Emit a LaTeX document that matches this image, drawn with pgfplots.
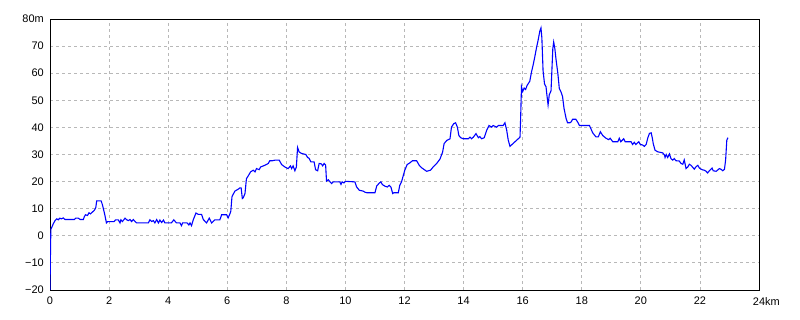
\documentclass[border=0pt]{standalone}
\usepackage{fontspec}
\setmainfont{Liberation Sans}
\usepackage{pgfplots}
\pgfplotsset{compat=1.18}
\begin{document}
\begin{tikzpicture}
\useasboundingbox (0,0) rectangle (800bp,320bp);
\begin{axis}[
  at={(50bp,30bp)}, anchor=south west,
  scale only axis, width=709bp, height=271bp,
  xmin=0, xmax=24, ymin=-20, ymax=80,
  xtick={0,2,4,6,8,10,12,14,16,18,20,22,24},
  ytick={-20,-10,0,10,20,30,40,50,60,70,80},
  xticklabels={0,2,4,6,8,10,12,14,16,18,20,22,24\rlap{km}},
  yticklabels={−20,−10,0,10,20,30,40,50,60,70,80m},
  grid=major,
  major grid style={color=black!28, dash pattern=on 3bp off 3bp, line width=0.8bp},
  axis line style={line width=0.9bp, black},
  major tick length=0pt,
  tick label style={font=\fontsize{11}{13}\selectfont},
  xticklabel style={inner sep=0pt, anchor=north, yshift=-7bp},
  yticklabel style={inner sep=0pt, anchor=east, xshift=-6bp},
  axis on top=false,
]
\addplot[color={rgb,255:red,0;green,0;blue,255}, line width=1.1bp, mark=none] coordinates {
(0,-20) (0.02,-3) (0.03,2.5) (0.06,3.1) (0.11,4.4) (0.17,5.6) (0.23,6.25) (0.28,5.9)
(0.33,6.5) (0.39,6.25) (0.45,6.6) (0.51,6) (0.82,6) (0.87,6.5) (0.96,6.5) (1.02,6)
(1.13,6) (1.16,7) (1.2,7.75) (1.27,7.5) (1.32,8.5) (1.37,8.1) (1.41,8.5) (1.5,9.4)
(1.55,10.4) (1.58,12.9) (1.73,12.9) (1.77,11.6) (1.82,9.4) (1.86,7.5) (1.91,4.75)
(1.95,5.25) (2.17,5.25) (2.22,5.9) (2.31,5.9) (2.37,4.75) (2.4,5.9) (2.45,5.25)
(2.54,6.5) (2.6,5.9) (2.65,5.6) (2.71,6) (2.76,5.25) (2.82,6) (2.88,5.25) (2.93,4.75)
(3.33,4.75) (3.38,5.9) (3.44,5.25) (3.5,5.6) (3.55,4.75) (3.61,6) (3.67,4.75)
(3.72,5.8) (3.78,4.9) (3.84,5.8) (3.89,4.75) (4.11,4.75) (4.19,5.9) (4.28,4.75)
(4.4,4.75) (4.45,3.75) (4.49,4.75) (4.64,4.75) (4.7,4) (4.74,4.75) (4.79,3.75)
(4.85,5.9) (4.94,8.4) (5.02,7.9) (5.13,7.9) (5.19,6) (5.3,4.75) (5.39,6.5) (5.47,4.75)
(5.58,5.9) (5.75,5.9) (5.81,7.75) (5.98,7.75) (6.03,6.6) (6.09,8.1) (6.12,9.1)
(6.16,14.4) (6.2,15.3) (6.26,16.5) (6.37,17.2) (6.43,17.7) (6.47,17.7) (6.51,13.75)
(6.54,14) (6.6,15.6) (6.65,21.1) (6.71,22.1) (6.79,23.6) (6.88,24.2) (6.94,23.6)
(6.99,24.8) (7.08,24.4) (7.13,25.4) (7.27,26) (7.39,26.7) (7.44,27.7) (7.53,27.7)
(7.61,27.9) (7.76,27.9) (7.84,26.3) (7.95,25.4) (8.06,24.8) (8.14,25.8) (8.18,24.8)
(8.23,25.8) (8.29,24) (8.34,25.4) (8.38,32.6) (8.43,31) (8.51,30.4) (8.66,30)
(8.72,28.9) (8.77,28.6) (8.83,27.3) (8.94,27.3) (8.99,24.4) (9.06,24) (9.11,26.7)
(9.19,26.5) (9.23,25.8) (9.28,26.7) (9.33,26.1) (9.36,20.2) (9.42,20.7) (9.48,19.9)
(9.53,19.3) (9.59,19.9) (9.81,19.9) (9.85,19) (9.89,19.9) (9.95,19.5) (10.0,20.1)
(10.32,19.9) (10.38,18) (10.47,16.8) (10.6,16.5) (10.66,16.1) (10.72,15.9) (11.0,15.9)
(11.06,18.4) (11.15,19.5) (11.2,19.9) (11.25,18.9) (11.34,18.3) (11.42,18) (11.48,18.6)
(11.54,18) (11.6,15.6) (11.64,15.9) (11.79,15.9) (11.84,18.6) (11.9,19.9) (11.96,22.3)
(12.01,24.2) (12.09,26.3) (12.18,26.9) (12.27,27.7) (12.41,27.7) (12.5,26) (12.58,25.1)
(12.75,23.8) (12.88,24.2) (12.97,25.4) (13.09,26.7) (13.2,28.3) (13.29,30.9) (13.34,34)
(13.43,35.2) (13.54,35.8) (13.59,40.1) (13.67,41.4) (13.73,41.7) (13.79,40.1) (13.84,37)
(13.9,36.2) (13.99,35.8) (14.16,35.8) (14.22,36.4) (14.27,35.8) (14.33,36.4) (14.42,37.7)
(14.5,36.2) (14.55,36.6) (14.61,35.8) (14.7,36.2) (14.78,38.9) (14.86,40.7) (14.95,40.1)
(15.0,40.7) (15.12,40.1) (15.18,40.7) (15.34,40.7) (15.4,41.7) (15.46,38.9) (15.51,35.4)
(15.57,33) (15.91,36.4) (15.93,43) (15.96,55) (16.0,53.2) (16.05,54.5) (16.1,54)
(16.15,55.5) (16.24,57) (16.3,60.5) (16.35,62.8) (16.41,66) (16.47,69.5) (16.52,72)
(16.58,75.5) (16.62,76.7) (16.65,73) (16.69,61) (16.74,56) (16.79,55) (16.82,52)
(16.86,48.3) (16.9,52) (16.96,53.5) (17.02,69) (17.05,71.5) (17.09,69) (17.13,65)
(17.19,60) (17.24,54.4) (17.3,53) (17.35,51.4) (17.4,47) (17.47,43.3) (17.52,41.7)
(17.6,41.7) (17.64,42) (17.69,43) (17.8,43) (17.86,42) (17.92,40.7) (18.26,40.7)
(18.31,39.5) (18.37,38) (18.48,36.5) (18.56,36.5) (18.63,38.4) (18.71,37) (18.82,36)
(18.91,35.5) (18.96,36) (19.05,34.7) (19.22,34.7) (19.27,36) (19.32,34.7) (19.42,35.8)
(19.47,34.7) (19.67,34.7) (19.72,33.7) (19.78,34.5) (19.83,33.7) (19.93,34.7) (19.98,33.7)
(20.06,33.5) (20.12,33) (20.18,33.7) (20.23,35.9) (20.29,37.8) (20.35,38) (20.39,36)
(20.42,34) (20.48,31.6) (20.57,31) (20.74,30.6) (20.8,29.8) (20.82,28.9) (20.86,30)
(20.91,28.9) (20.97,30.2) (21.02,28.5) (21.08,27.9) (21.13,28.5) (21.19,27.7) (21.3,27.6)
(21.36,26.7) (21.42,26.4) (21.47,28) (21.53,24.8) (21.59,25.4) (21.64,26.4) (21.7,26)
(21.76,25.2) (21.81,24.6) (21.87,25.5) (21.93,26) (21.98,25) (22.04,24.6) (22.1,24.3)
(22.15,24.2) (22.21,23.8) (22.26,23.2) (22.32,24) (22.41,25) (22.45,24) (22.55,23.8)
(22.66,24.8) (22.72,24.5) (22.77,24) (22.83,24.5) (22.87,28) (22.89,31.6) (22.91,35.3)
(22.95,36.2)
};
\end{axis}
\end{tikzpicture}
\end{document}
